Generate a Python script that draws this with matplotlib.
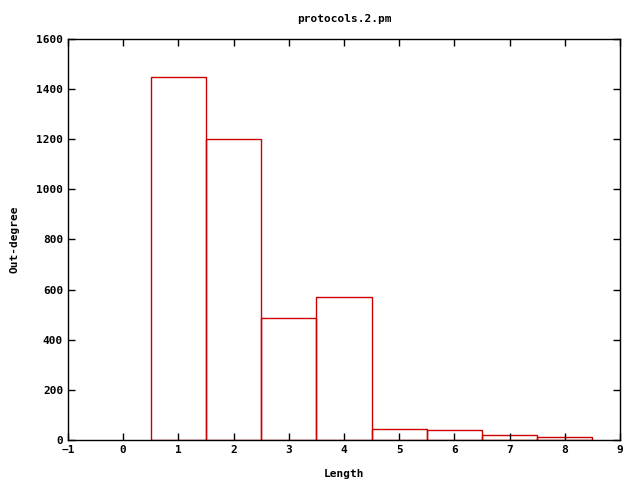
import matplotlib
matplotlib.use("Agg")
import matplotlib.pyplot as plt

lengths = [1, 2, 3, 4, 5, 6, 7, 8]
outdeg = [1450, 1200, 487, 571, 43, 39, 20, 11]
xticks = list(range(-1, 10))
yticks = list(range(0, 1601, 200))

plt.rcParams['font.family'] = 'DejaVu Sans Mono'
plt.rcParams['font.weight'] = 'bold'
plt.rcParams['font.size'] = 8

fig = plt.figure(figsize=(6.4, 4.8), dpi=100)
ax = fig.add_axes([68/640, 40/480, 552/640, 401/480])
ax.bar(lengths, outdeg, width=1.0, facecolor='none', edgecolor='#cc0000', linewidth=1.0)
ax.set_xlim(-1, 9)
ax.set_ylim(0, 1600)
ax.set_xticks(xticks)
ax.set_yticks(yticks)
ax.tick_params(direction='in', top=True, right=True, length=5, width=1)
for s in ax.spines.values():
    s.set_linewidth(1)
ax.set_xlabel('Length', fontweight='bold', labelpad=10)
ax.set_ylabel('Out-degree', fontweight='bold', labelpad=12)
ax.set_title('protocols.2.pm', fontweight='bold', fontsize=8, pad=12)
fig.savefig('out.png', dpi=100)
